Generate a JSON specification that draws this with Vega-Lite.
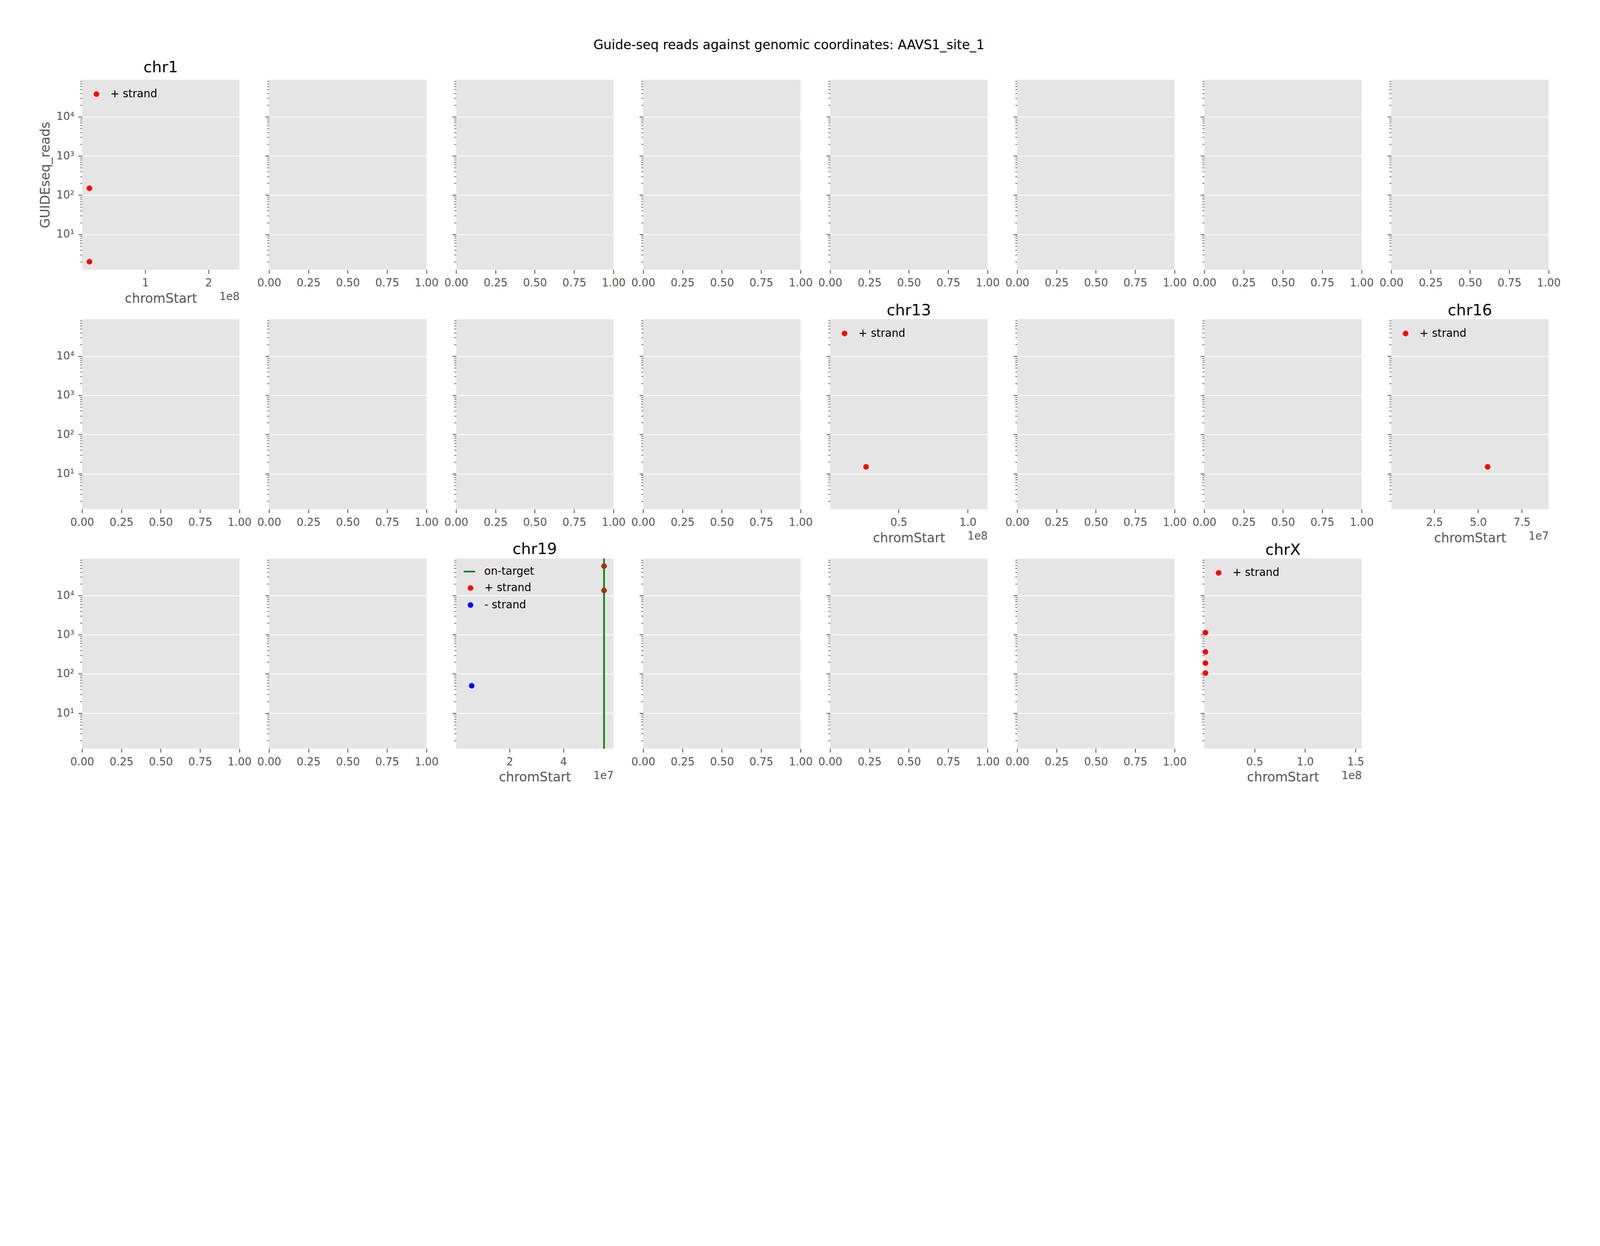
{
  "$schema": "https://vega.github.io/schema/vega-lite/v6.json",
  "padding": {"left": 100, "top": 99, "right": 12, "bottom": 30},
  "title": {"text": "Guide-seq reads against genomic coordinates: AAVS1_site_1", "fontSize": 33, "color": "black", "offset": -6, "dx": -28, "baseline": "alphabetic"},
  "data": {
    "values": [
      {"chrom": "chr1", "chromStart": 11700000, "GUIDEseq_reads": 150, "series": "+ strand"},
      {"chrom": "chr1", "chromStart": 11700000, "GUIDEseq_reads": 2, "series": "+ strand"},
      {"chrom": "chr13", "chromStart": 26400000, "GUIDEseq_reads": 15, "series": "+ strand"},
      {"chrom": "chr16", "chromStart": 55500000, "GUIDEseq_reads": 15, "series": "+ strand"},
      {"chrom": "chr19", "chromStart": 55115750, "GUIDEseq_reads": 56500, "series": "+ strand"},
      {"chrom": "chr19", "chromStart": 55115750, "GUIDEseq_reads": 13500, "series": "+ strand"},
      {"chrom": "chr19", "chromStart": 5900000, "GUIDEseq_reads": 50, "series": "- strand"},
      {"chrom": "chr19", "chromStart": 55115750, "GUIDEseq_reads": null, "series": "on-target"},
      {"chrom": "chrX", "chromStart": 1400000, "GUIDEseq_reads": 1130, "series": "+ strand"},
      {"chrom": "chrX", "chromStart": 1400000, "GUIDEseq_reads": 364, "series": "+ strand"},
      {"chrom": "chrX", "chromStart": 1400000, "GUIDEseq_reads": 189, "series": "+ strand"},
      {"chrom": "chrX", "chromStart": 1400000, "GUIDEseq_reads": 105, "series": "+ strand"}
    ]
  },
  "columns": 8,
  "spacing": {"row": 125.7, "column": 75.8},
  "bounds": "flush",
  "resolve": {"scale": {"color": "independent", "strokeDash": "independent"}, "legend": {"color": "independent", "strokeDash": "independent"}},
  "concat": [
    {
      "title": "chr1",
      "width": 402.9, "height": 486.6,
      "transform": [{"filter": "datum.chrom === 'chr1'"}],
      "layer": [
        {
          "mark": {"type": "point", "filled": true, "opacity": 1, "size": 250, "stroke": "#EEEEEE", "strokeWidth": 1.32},
          "encoding": {
            "x": {"field": "chromStart", "type": "quantitative", "scale": {"domain": [0, 248956422], "nice": false, "zero": false},
                  "axis": {"values": [100000000, 200000000], "labelExpr": "format(datum.value / 1e8, 'd')", "title": "chromStart"}},
            "y": {"field": "GUIDEseq_reads", "type": "quantitative", "scale": {"type": "log", "domain": [1.24, 88500], "nice": false},
                  "axis": {"title": "GUIDEseq_reads", "labelExpr": "datum.value === 10 ? '10¹' : datum.value === 100 ? '10²' : datum.value === 1000 ? '10³' : datum.value === 10000 ? '10⁴' : ''",
                           "tickDash": {"condition": {"test": "indexof([10,100,1000,10000], datum.value) < 0", "value": [5.5, 30]}, "value": []},
                           "tickWidth": {"condition": {"test": "indexof([10,100,1000,10000], datum.value) < 0", "value": 1.65}, "value": 2.18},
                           "gridOpacity": {"condition": {"test": "indexof([10,100,1000,10000], datum.value) < 0", "value": 0}, "value": 1}}},
            "color": {"field": "series", "type": "nominal", "scale": {"domain": ["+ strand"], "range": ["#FF0000"]}, "legend": {"title": null}}
          }
        },
        {
          "mark": {"type": "point", "opacity": 0},
          "encoding": {
            "x": {"field": "chromStart", "type": "quantitative", "scale": {"domain": [0, 248956422], "nice": false, "zero": false},
                  "axis": {"orient": "bottom", "title": "1e8", "labels": false, "ticks": false, "titleAnchor": "end", "titleAlign": "right", "titleX": 402.9, "titleY": 77.2, "titleFontSize": 27.5}},
            "y": {"field": "GUIDEseq_reads", "type": "quantitative"}
          }
        }
      ],
      "resolve": {"axis": {"x": "independent"}}
    },
    {"transform": [{"filter": "datum.chrom === 'chr2'"}], "mark": {"type": "point", "filled": true},
     "encoding": {"x": {"field": "chromStart", "type": "quantitative", "scale": {"domain": [0, 1], "nice": false, "zero": false}, "axis": {"values": [0, 0.25, 0.5, 0.75, 1], "format": ".2f", "title": null}},
                  "y": {"field": "GUIDEseq_reads", "type": "quantitative", "scale": {"type": "log", "domain": [1.24, 88500], "nice": false}, "axis": {"title": null, "labels": false, "tickDash": {"condition": {"test": "indexof([10,100,1000,10000], datum.value) < 0", "value": [5.5, 30]}, "value": []}, "tickWidth": {"condition": {"test": "indexof([10,100,1000,10000], datum.value) < 0", "value": 1.65}, "value": 2.18}, "gridOpacity": {"condition": {"test": "indexof([10,100,1000,10000], datum.value) < 0", "value": 0}, "value": 1}}}}},
    {"transform": [{"filter": "datum.chrom === 'chr3'"}], "mark": {"type": "point", "filled": true},
     "encoding": {"x": {"field": "chromStart", "type": "quantitative", "scale": {"domain": [0, 1], "nice": false, "zero": false}, "axis": {"values": [0, 0.25, 0.5, 0.75, 1], "format": ".2f", "title": null}},
                  "y": {"field": "GUIDEseq_reads", "type": "quantitative", "scale": {"type": "log", "domain": [1.24, 88500], "nice": false}, "axis": {"title": null, "labels": false, "tickDash": {"condition": {"test": "indexof([10,100,1000,10000], datum.value) < 0", "value": [5.5, 30]}, "value": []}, "tickWidth": {"condition": {"test": "indexof([10,100,1000,10000], datum.value) < 0", "value": 1.65}, "value": 2.18}, "gridOpacity": {"condition": {"test": "indexof([10,100,1000,10000], datum.value) < 0", "value": 0}, "value": 1}}}}},
    {"transform": [{"filter": "datum.chrom === 'chr4'"}], "mark": {"type": "point", "filled": true},
     "encoding": {"x": {"field": "chromStart", "type": "quantitative", "scale": {"domain": [0, 1], "nice": false, "zero": false}, "axis": {"values": [0, 0.25, 0.5, 0.75, 1], "format": ".2f", "title": null}},
                  "y": {"field": "GUIDEseq_reads", "type": "quantitative", "scale": {"type": "log", "domain": [1.24, 88500], "nice": false}, "axis": {"title": null, "labels": false, "tickDash": {"condition": {"test": "indexof([10,100,1000,10000], datum.value) < 0", "value": [5.5, 30]}, "value": []}, "tickWidth": {"condition": {"test": "indexof([10,100,1000,10000], datum.value) < 0", "value": 1.65}, "value": 2.18}, "gridOpacity": {"condition": {"test": "indexof([10,100,1000,10000], datum.value) < 0", "value": 0}, "value": 1}}}}},
    {"transform": [{"filter": "datum.chrom === 'chr5'"}], "mark": {"type": "point", "filled": true},
     "encoding": {"x": {"field": "chromStart", "type": "quantitative", "scale": {"domain": [0, 1], "nice": false, "zero": false}, "axis": {"values": [0, 0.25, 0.5, 0.75, 1], "format": ".2f", "title": null}},
                  "y": {"field": "GUIDEseq_reads", "type": "quantitative", "scale": {"type": "log", "domain": [1.24, 88500], "nice": false}, "axis": {"title": null, "labels": false, "tickDash": {"condition": {"test": "indexof([10,100,1000,10000], datum.value) < 0", "value": [5.5, 30]}, "value": []}, "tickWidth": {"condition": {"test": "indexof([10,100,1000,10000], datum.value) < 0", "value": 1.65}, "value": 2.18}, "gridOpacity": {"condition": {"test": "indexof([10,100,1000,10000], datum.value) < 0", "value": 0}, "value": 1}}}}},
    {"transform": [{"filter": "datum.chrom === 'chr6'"}], "mark": {"type": "point", "filled": true},
     "encoding": {"x": {"field": "chromStart", "type": "quantitative", "scale": {"domain": [0, 1], "nice": false, "zero": false}, "axis": {"values": [0, 0.25, 0.5, 0.75, 1], "format": ".2f", "title": null}},
                  "y": {"field": "GUIDEseq_reads", "type": "quantitative", "scale": {"type": "log", "domain": [1.24, 88500], "nice": false}, "axis": {"title": null, "labels": false, "tickDash": {"condition": {"test": "indexof([10,100,1000,10000], datum.value) < 0", "value": [5.5, 30]}, "value": []}, "tickWidth": {"condition": {"test": "indexof([10,100,1000,10000], datum.value) < 0", "value": 1.65}, "value": 2.18}, "gridOpacity": {"condition": {"test": "indexof([10,100,1000,10000], datum.value) < 0", "value": 0}, "value": 1}}}}},
    {"transform": [{"filter": "datum.chrom === 'chr7'"}], "mark": {"type": "point", "filled": true},
     "encoding": {"x": {"field": "chromStart", "type": "quantitative", "scale": {"domain": [0, 1], "nice": false, "zero": false}, "axis": {"values": [0, 0.25, 0.5, 0.75, 1], "format": ".2f", "title": null}},
                  "y": {"field": "GUIDEseq_reads", "type": "quantitative", "scale": {"type": "log", "domain": [1.24, 88500], "nice": false}, "axis": {"title": null, "labels": false, "tickDash": {"condition": {"test": "indexof([10,100,1000,10000], datum.value) < 0", "value": [5.5, 30]}, "value": []}, "tickWidth": {"condition": {"test": "indexof([10,100,1000,10000], datum.value) < 0", "value": 1.65}, "value": 2.18}, "gridOpacity": {"condition": {"test": "indexof([10,100,1000,10000], datum.value) < 0", "value": 0}, "value": 1}}}}},
    {"transform": [{"filter": "datum.chrom === 'chr8'"}], "mark": {"type": "point", "filled": true},
     "encoding": {"x": {"field": "chromStart", "type": "quantitative", "scale": {"domain": [0, 1], "nice": false, "zero": false}, "axis": {"values": [0, 0.25, 0.5, 0.75, 1], "format": ".2f", "title": null}},
                  "y": {"field": "GUIDEseq_reads", "type": "quantitative", "scale": {"type": "log", "domain": [1.24, 88500], "nice": false}, "axis": {"title": null, "labels": false, "tickDash": {"condition": {"test": "indexof([10,100,1000,10000], datum.value) < 0", "value": [5.5, 30]}, "value": []}, "tickWidth": {"condition": {"test": "indexof([10,100,1000,10000], datum.value) < 0", "value": 1.65}, "value": 2.18}, "gridOpacity": {"condition": {"test": "indexof([10,100,1000,10000], datum.value) < 0", "value": 0}, "value": 1}}}}},
    {"transform": [{"filter": "datum.chrom === 'chr9'"}], "mark": {"type": "point", "filled": true},
     "encoding": {"x": {"field": "chromStart", "type": "quantitative", "scale": {"domain": [0, 1], "nice": false, "zero": false}, "axis": {"values": [0, 0.25, 0.5, 0.75, 1], "format": ".2f", "title": null}},
                  "y": {"field": "GUIDEseq_reads", "type": "quantitative", "scale": {"type": "log", "domain": [1.24, 88500], "nice": false}, "axis": {"title": null, "labelExpr": "datum.value === 10 ? '10¹' : datum.value === 100 ? '10²' : datum.value === 1000 ? '10³' : datum.value === 10000 ? '10⁴' : ''", "tickDash": {"condition": {"test": "indexof([10,100,1000,10000], datum.value) < 0", "value": [5.5, 30]}, "value": []}, "tickWidth": {"condition": {"test": "indexof([10,100,1000,10000], datum.value) < 0", "value": 1.65}, "value": 2.18}, "gridOpacity": {"condition": {"test": "indexof([10,100,1000,10000], datum.value) < 0", "value": 0}, "value": 1}}}}},
    {"transform": [{"filter": "datum.chrom === 'chr10'"}], "mark": {"type": "point", "filled": true},
     "encoding": {"x": {"field": "chromStart", "type": "quantitative", "scale": {"domain": [0, 1], "nice": false, "zero": false}, "axis": {"values": [0, 0.25, 0.5, 0.75, 1], "format": ".2f", "title": null}},
                  "y": {"field": "GUIDEseq_reads", "type": "quantitative", "scale": {"type": "log", "domain": [1.24, 88500], "nice": false}, "axis": {"title": null, "labels": false, "tickDash": {"condition": {"test": "indexof([10,100,1000,10000], datum.value) < 0", "value": [5.5, 30]}, "value": []}, "tickWidth": {"condition": {"test": "indexof([10,100,1000,10000], datum.value) < 0", "value": 1.65}, "value": 2.18}, "gridOpacity": {"condition": {"test": "indexof([10,100,1000,10000], datum.value) < 0", "value": 0}, "value": 1}}}}},
    {"transform": [{"filter": "datum.chrom === 'chr11'"}], "mark": {"type": "point", "filled": true},
     "encoding": {"x": {"field": "chromStart", "type": "quantitative", "scale": {"domain": [0, 1], "nice": false, "zero": false}, "axis": {"values": [0, 0.25, 0.5, 0.75, 1], "format": ".2f", "title": null}},
                  "y": {"field": "GUIDEseq_reads", "type": "quantitative", "scale": {"type": "log", "domain": [1.24, 88500], "nice": false}, "axis": {"title": null, "labels": false, "tickDash": {"condition": {"test": "indexof([10,100,1000,10000], datum.value) < 0", "value": [5.5, 30]}, "value": []}, "tickWidth": {"condition": {"test": "indexof([10,100,1000,10000], datum.value) < 0", "value": 1.65}, "value": 2.18}, "gridOpacity": {"condition": {"test": "indexof([10,100,1000,10000], datum.value) < 0", "value": 0}, "value": 1}}}}},
    {"transform": [{"filter": "datum.chrom === 'chr12'"}], "mark": {"type": "point", "filled": true},
     "encoding": {"x": {"field": "chromStart", "type": "quantitative", "scale": {"domain": [0, 1], "nice": false, "zero": false}, "axis": {"values": [0, 0.25, 0.5, 0.75, 1], "format": ".2f", "title": null}},
                  "y": {"field": "GUIDEseq_reads", "type": "quantitative", "scale": {"type": "log", "domain": [1.24, 88500], "nice": false}, "axis": {"title": null, "labels": false, "tickDash": {"condition": {"test": "indexof([10,100,1000,10000], datum.value) < 0", "value": [5.5, 30]}, "value": []}, "tickWidth": {"condition": {"test": "indexof([10,100,1000,10000], datum.value) < 0", "value": 1.65}, "value": 2.18}, "gridOpacity": {"condition": {"test": "indexof([10,100,1000,10000], datum.value) < 0", "value": 0}, "value": 1}}}}},
    {
      "title": "chr13",
      "width": 402.9, "height": 486.6,
      "transform": [{"filter": "datum.chrom === 'chr13'"}],
      "layer": [
        {
          "mark": {"type": "point", "filled": true, "opacity": 1, "size": 250, "stroke": "#EEEEEE", "strokeWidth": 1.32},
          "encoding": {
            "x": {"field": "chromStart", "type": "quantitative", "scale": {"domain": [400000, 114364328], "nice": false, "zero": false},
                  "axis": {"values": [50000000, 100000000], "labelExpr": "format(datum.value / 1e8, '.1f')", "title": "chromStart"}},
            "y": {"field": "GUIDEseq_reads", "type": "quantitative", "scale": {"type": "log", "domain": [1.24, 88500], "nice": false},
                  "axis": {"title": null, "labels": false,
                           "tickDash": {"condition": {"test": "indexof([10,100,1000,10000], datum.value) < 0", "value": [5.5, 30]}, "value": []},
                           "tickWidth": {"condition": {"test": "indexof([10,100,1000,10000], datum.value) < 0", "value": 1.65}, "value": 2.18},
                           "gridOpacity": {"condition": {"test": "indexof([10,100,1000,10000], datum.value) < 0", "value": 0}, "value": 1}}},
            "color": {"field": "series", "type": "nominal", "scale": {"domain": ["+ strand"], "range": ["#FF0000"]}, "legend": {"title": null}}
          }
        },
        {
          "mark": {"type": "point", "opacity": 0},
          "encoding": {
            "x": {"field": "chromStart", "type": "quantitative", "scale": {"domain": [400000, 114364328], "nice": false, "zero": false},
                  "axis": {"orient": "bottom", "title": "1e8", "labels": false, "ticks": false, "titleAnchor": "end", "titleAlign": "right", "titleX": 402.9, "titleY": 77.2, "titleFontSize": 27.5}},
            "y": {"field": "GUIDEseq_reads", "type": "quantitative"}
          }
        }
      ],
      "resolve": {"axis": {"x": "independent"}}
    },
    {"transform": [{"filter": "datum.chrom === 'chr14'"}], "mark": {"type": "point", "filled": true},
     "encoding": {"x": {"field": "chromStart", "type": "quantitative", "scale": {"domain": [0, 1], "nice": false, "zero": false}, "axis": {"values": [0, 0.25, 0.5, 0.75, 1], "format": ".2f", "title": null}},
                  "y": {"field": "GUIDEseq_reads", "type": "quantitative", "scale": {"type": "log", "domain": [1.24, 88500], "nice": false}, "axis": {"title": null, "labels": false, "tickDash": {"condition": {"test": "indexof([10,100,1000,10000], datum.value) < 0", "value": [5.5, 30]}, "value": []}, "tickWidth": {"condition": {"test": "indexof([10,100,1000,10000], datum.value) < 0", "value": 1.65}, "value": 2.18}, "gridOpacity": {"condition": {"test": "indexof([10,100,1000,10000], datum.value) < 0", "value": 0}, "value": 1}}}}},
    {"transform": [{"filter": "datum.chrom === 'chr15'"}], "mark": {"type": "point", "filled": true},
     "encoding": {"x": {"field": "chromStart", "type": "quantitative", "scale": {"domain": [0, 1], "nice": false, "zero": false}, "axis": {"values": [0, 0.25, 0.5, 0.75, 1], "format": ".2f", "title": null}},
                  "y": {"field": "GUIDEseq_reads", "type": "quantitative", "scale": {"type": "log", "domain": [1.24, 88500], "nice": false}, "axis": {"title": null, "labels": false, "tickDash": {"condition": {"test": "indexof([10,100,1000,10000], datum.value) < 0", "value": [5.5, 30]}, "value": []}, "tickWidth": {"condition": {"test": "indexof([10,100,1000,10000], datum.value) < 0", "value": 1.65}, "value": 2.18}, "gridOpacity": {"condition": {"test": "indexof([10,100,1000,10000], datum.value) < 0", "value": 0}, "value": 1}}}}},
    {
      "title": "chr16",
      "width": 402.9, "height": 486.6,
      "transform": [{"filter": "datum.chrom === 'chr16'"}],
      "layer": [
        {
          "mark": {"type": "point", "filled": true, "opacity": 1, "size": 250, "stroke": "#EEEEEE", "strokeWidth": 1.32},
          "encoding": {
            "x": {"field": "chromStart", "type": "quantitative", "scale": {"domain": [400000, 90338345], "nice": false, "zero": false},
                  "axis": {"values": [25000000, 50000000, 75000000], "labelExpr": "format(datum.value / 1e7, '.1f')", "title": "chromStart"}},
            "y": {"field": "GUIDEseq_reads", "type": "quantitative", "scale": {"type": "log", "domain": [1.24, 88500], "nice": false},
                  "axis": {"title": null, "labels": false,
                           "tickDash": {"condition": {"test": "indexof([10,100,1000,10000], datum.value) < 0", "value": [5.5, 30]}, "value": []},
                           "tickWidth": {"condition": {"test": "indexof([10,100,1000,10000], datum.value) < 0", "value": 1.65}, "value": 2.18},
                           "gridOpacity": {"condition": {"test": "indexof([10,100,1000,10000], datum.value) < 0", "value": 0}, "value": 1}}},
            "color": {"field": "series", "type": "nominal", "scale": {"domain": ["+ strand"], "range": ["#FF0000"]}, "legend": {"title": null}}
          }
        },
        {
          "mark": {"type": "point", "opacity": 0},
          "encoding": {
            "x": {"field": "chromStart", "type": "quantitative", "scale": {"domain": [400000, 90338345], "nice": false, "zero": false},
                  "axis": {"orient": "bottom", "title": "1e7", "labels": false, "ticks": false, "titleAnchor": "end", "titleAlign": "right", "titleX": 402.9, "titleY": 77.2, "titleFontSize": 27.5}},
            "y": {"field": "GUIDEseq_reads", "type": "quantitative"}
          }
        }
      ],
      "resolve": {"axis": {"x": "independent"}}
    },
    {"transform": [{"filter": "datum.chrom === 'chr17'"}], "mark": {"type": "point", "filled": true},
     "encoding": {"x": {"field": "chromStart", "type": "quantitative", "scale": {"domain": [0, 1], "nice": false, "zero": false}, "axis": {"values": [0, 0.25, 0.5, 0.75, 1], "format": ".2f", "title": null}},
                  "y": {"field": "GUIDEseq_reads", "type": "quantitative", "scale": {"type": "log", "domain": [1.24, 88500], "nice": false}, "axis": {"title": null, "labelExpr": "datum.value === 10 ? '10¹' : datum.value === 100 ? '10²' : datum.value === 1000 ? '10³' : datum.value === 10000 ? '10⁴' : ''", "tickDash": {"condition": {"test": "indexof([10,100,1000,10000], datum.value) < 0", "value": [5.5, 30]}, "value": []}, "tickWidth": {"condition": {"test": "indexof([10,100,1000,10000], datum.value) < 0", "value": 1.65}, "value": 2.18}, "gridOpacity": {"condition": {"test": "indexof([10,100,1000,10000], datum.value) < 0", "value": 0}, "value": 1}}}}},
    {"transform": [{"filter": "datum.chrom === 'chr18'"}], "mark": {"type": "point", "filled": true},
     "encoding": {"x": {"field": "chromStart", "type": "quantitative", "scale": {"domain": [0, 1], "nice": false, "zero": false}, "axis": {"values": [0, 0.25, 0.5, 0.75, 1], "format": ".2f", "title": null}},
                  "y": {"field": "GUIDEseq_reads", "type": "quantitative", "scale": {"type": "log", "domain": [1.24, 88500], "nice": false}, "axis": {"title": null, "labels": false, "tickDash": {"condition": {"test": "indexof([10,100,1000,10000], datum.value) < 0", "value": [5.5, 30]}, "value": []}, "tickWidth": {"condition": {"test": "indexof([10,100,1000,10000], datum.value) < 0", "value": 1.65}, "value": 2.18}, "gridOpacity": {"condition": {"test": "indexof([10,100,1000,10000], datum.value) < 0", "value": 0}, "value": 1}}}}},
    {
      "title": "chr19",
      "width": 402.9, "height": 486.6,
      "transform": [{"filter": "datum.chrom === 'chr19'"}],
      "layer": [
        {
          "transform": [{"filter": "datum.series !== 'on-target'"}],
          "mark": {"type": "point", "filled": true, "opacity": 1, "size": 250, "stroke": "#EEEEEE", "strokeWidth": 1.32},
          "encoding": {
            "x": {"field": "chromStart", "type": "quantitative", "scale": {"domain": [100000, 58617616], "nice": false, "zero": false},
                  "axis": {"values": [20000000, 40000000], "labelExpr": "format(datum.value / 1e7, 'd')", "title": "chromStart"}},
            "y": {"field": "GUIDEseq_reads", "type": "quantitative", "scale": {"type": "log", "domain": [1.24, 88500], "nice": false},
                  "axis": {"title": null, "labels": false,
                           "tickDash": {"condition": {"test": "indexof([10,100,1000,10000], datum.value) < 0", "value": [5.5, 30]}, "value": []},
                           "tickWidth": {"condition": {"test": "indexof([10,100,1000,10000], datum.value) < 0", "value": 1.65}, "value": 2.18},
                           "gridOpacity": {"condition": {"test": "indexof([10,100,1000,10000], datum.value) < 0", "value": 0}, "value": 1}}},
            "color": {"field": "series", "type": "nominal", "scale": {"domain": ["+ strand", "- strand"], "range": ["#FF0000", "#0000FF"]},
                      "legend": {"title": null, "legendY": 61.9}}
          }
        },
        {
          "transform": [{"filter": "datum.series === 'on-target'"}],
          "mark": {"type": "rule", "strokeWidth": 4.12, "color": "#008000"},
          "encoding": {
            "x": {"field": "chromStart", "type": "quantitative", "scale": {"domain": [100000, 58617616], "nice": false, "zero": false}, "axis": null},
            "y": {"datum": 1.24, "type": "quantitative"},
            "y2": {"datum": 88500},
            "strokeDash": {"field": "series", "type": "nominal", "scale": {"domain": ["on-target"], "range": [[1, 0]]},
                           "legend": {"title": null, "legendX": 17.1, "legendY": 16.5, "symbolType": "stroke", "symbolSize": 843, "symbolStrokeWidth": 4.12, "symbolStrokeColor": "#008000", "labelOffset": 20.9}}
          }
        },
        {
          "mark": {"type": "point", "opacity": 0},
          "encoding": {
            "x": {"field": "chromStart", "type": "quantitative", "scale": {"domain": [100000, 58617616], "nice": false, "zero": false},
                  "axis": {"orient": "bottom", "title": "1e7", "labels": false, "ticks": false, "titleAnchor": "end", "titleAlign": "right", "titleX": 402.9, "titleY": 77.2, "titleFontSize": 27.5}},
            "y": {"field": "GUIDEseq_reads", "type": "quantitative"}
          }
        }
      ],
      "resolve": {"axis": {"x": "independent"}}
    },
    {"transform": [{"filter": "datum.chrom === 'chr20'"}], "mark": {"type": "point", "filled": true},
     "encoding": {"x": {"field": "chromStart", "type": "quantitative", "scale": {"domain": [0, 1], "nice": false, "zero": false}, "axis": {"values": [0, 0.25, 0.5, 0.75, 1], "format": ".2f", "title": null}},
                  "y": {"field": "GUIDEseq_reads", "type": "quantitative", "scale": {"type": "log", "domain": [1.24, 88500], "nice": false}, "axis": {"title": null, "labels": false, "tickDash": {"condition": {"test": "indexof([10,100,1000,10000], datum.value) < 0", "value": [5.5, 30]}, "value": []}, "tickWidth": {"condition": {"test": "indexof([10,100,1000,10000], datum.value) < 0", "value": 1.65}, "value": 2.18}, "gridOpacity": {"condition": {"test": "indexof([10,100,1000,10000], datum.value) < 0", "value": 0}, "value": 1}}}}},
    {"transform": [{"filter": "datum.chrom === 'chr21'"}], "mark": {"type": "point", "filled": true},
     "encoding": {"x": {"field": "chromStart", "type": "quantitative", "scale": {"domain": [0, 1], "nice": false, "zero": false}, "axis": {"values": [0, 0.25, 0.5, 0.75, 1], "format": ".2f", "title": null}},
                  "y": {"field": "GUIDEseq_reads", "type": "quantitative", "scale": {"type": "log", "domain": [1.24, 88500], "nice": false}, "axis": {"title": null, "labels": false, "tickDash": {"condition": {"test": "indexof([10,100,1000,10000], datum.value) < 0", "value": [5.5, 30]}, "value": []}, "tickWidth": {"condition": {"test": "indexof([10,100,1000,10000], datum.value) < 0", "value": 1.65}, "value": 2.18}, "gridOpacity": {"condition": {"test": "indexof([10,100,1000,10000], datum.value) < 0", "value": 0}, "value": 1}}}}},
    {"transform": [{"filter": "datum.chrom === 'chr22'"}], "mark": {"type": "point", "filled": true},
     "encoding": {"x": {"field": "chromStart", "type": "quantitative", "scale": {"domain": [0, 1], "nice": false, "zero": false}, "axis": {"values": [0, 0.25, 0.5, 0.75, 1], "format": ".2f", "title": null}},
                  "y": {"field": "GUIDEseq_reads", "type": "quantitative", "scale": {"type": "log", "domain": [1.24, 88500], "nice": false}, "axis": {"title": null, "labels": false, "tickDash": {"condition": {"test": "indexof([10,100,1000,10000], datum.value) < 0", "value": [5.5, 30]}, "value": []}, "tickWidth": {"condition": {"test": "indexof([10,100,1000,10000], datum.value) < 0", "value": 1.65}, "value": 2.18}, "gridOpacity": {"condition": {"test": "indexof([10,100,1000,10000], datum.value) < 0", "value": 0}, "value": 1}}}}},
    {
      "title": "chrX",
      "width": 402.9, "height": 486.6,
      "transform": [{"filter": "datum.chrom === 'chrX'"}],
      "layer": [
        {
          "mark": {"type": "point", "filled": true, "opacity": 1, "size": 250, "stroke": "#EEEEEE", "strokeWidth": 1.32},
          "encoding": {
            "x": {"field": "chromStart", "type": "quantitative", "scale": {"domain": [200000, 156040895], "nice": false, "zero": false},
                  "axis": {"values": [50000000, 100000000, 150000000], "labelExpr": "format(datum.value / 1e8, '.1f')", "title": "chromStart"}},
            "y": {"field": "GUIDEseq_reads", "type": "quantitative", "scale": {"type": "log", "domain": [1.24, 88500], "nice": false},
                  "axis": {"title": null, "labels": false,
                           "tickDash": {"condition": {"test": "indexof([10,100,1000,10000], datum.value) < 0", "value": [5.5, 30]}, "value": []},
                           "tickWidth": {"condition": {"test": "indexof([10,100,1000,10000], datum.value) < 0", "value": 1.65}, "value": 2.18},
                           "gridOpacity": {"condition": {"test": "indexof([10,100,1000,10000], datum.value) < 0", "value": 0}, "value": 1}}},
            "color": {"field": "series", "type": "nominal", "scale": {"domain": ["+ strand"], "range": ["#FF0000"]}, "legend": {"title": null}}
          }
        },
        {
          "mark": {"type": "point", "opacity": 0},
          "encoding": {
            "x": {"field": "chromStart", "type": "quantitative", "scale": {"domain": [200000, 156040895], "nice": false, "zero": false},
                  "axis": {"orient": "bottom", "title": "1e8", "labels": false, "ticks": false, "titleAnchor": "end", "titleAlign": "right", "titleX": 402.9, "titleY": 77.2, "titleFontSize": 27.5}},
            "y": {"field": "GUIDEseq_reads", "type": "quantitative"}
          }
        }
      ],
      "resolve": {"axis": {"x": "independent"}}
    }
  ],
  "config": {
    "font": "DejaVu Sans",
    "view": {"continuousWidth": 402.9, "continuousHeight": 486.6, "fill": "#E5E5E5", "stroke": null},
    "title": {"font": "DejaVu Sans", "fontSize": 39.6, "fontWeight": "normal", "color": "black", "anchor": "middle", "offset": 1, "baseline": "alphabetic"},
    "axis": {
      "domain": false, "labelFont": "DejaVu Sans", "labelFontSize": 27.5, "labelColor": "#555555",
      "tickColor": "#555555", "tickSize": 9.6, "tickWidth": 2.18, "labelPadding": 10.5,
      "titleFont": "DejaVu Sans", "titleFontSize": 33, "titleFontWeight": "normal", "titleColor": "#555555",
      "labelFlush": false, "labelOverlap": false, "labelBound": false
    },
    "axisX": {"grid": false, "titleY": 83.7, "titleBaseline": "alphabetic"},
    "axisY": {"grid": true, "gridColor": "white", "gridWidth": 2.18, "titleX": -83.7, "titleY": 243.3, "titleBaseline": "alphabetic", "titleAngle": -90},
    "legend": {
      "orient": "none", "legendX": 23.1, "legendY": 23.1, "padding": 0,
      "labelFont": "DejaVu Sans", "labelFontSize": 27.5, "labelColor": "black", "labelLimit": 400,
      "symbolSize": 250, "symbolStrokeWidth": 1.32, "symbolStrokeColor": "#EEEEEE", "rowPadding": 14.5, "labelOffset": 21.8
    }
  }
}
